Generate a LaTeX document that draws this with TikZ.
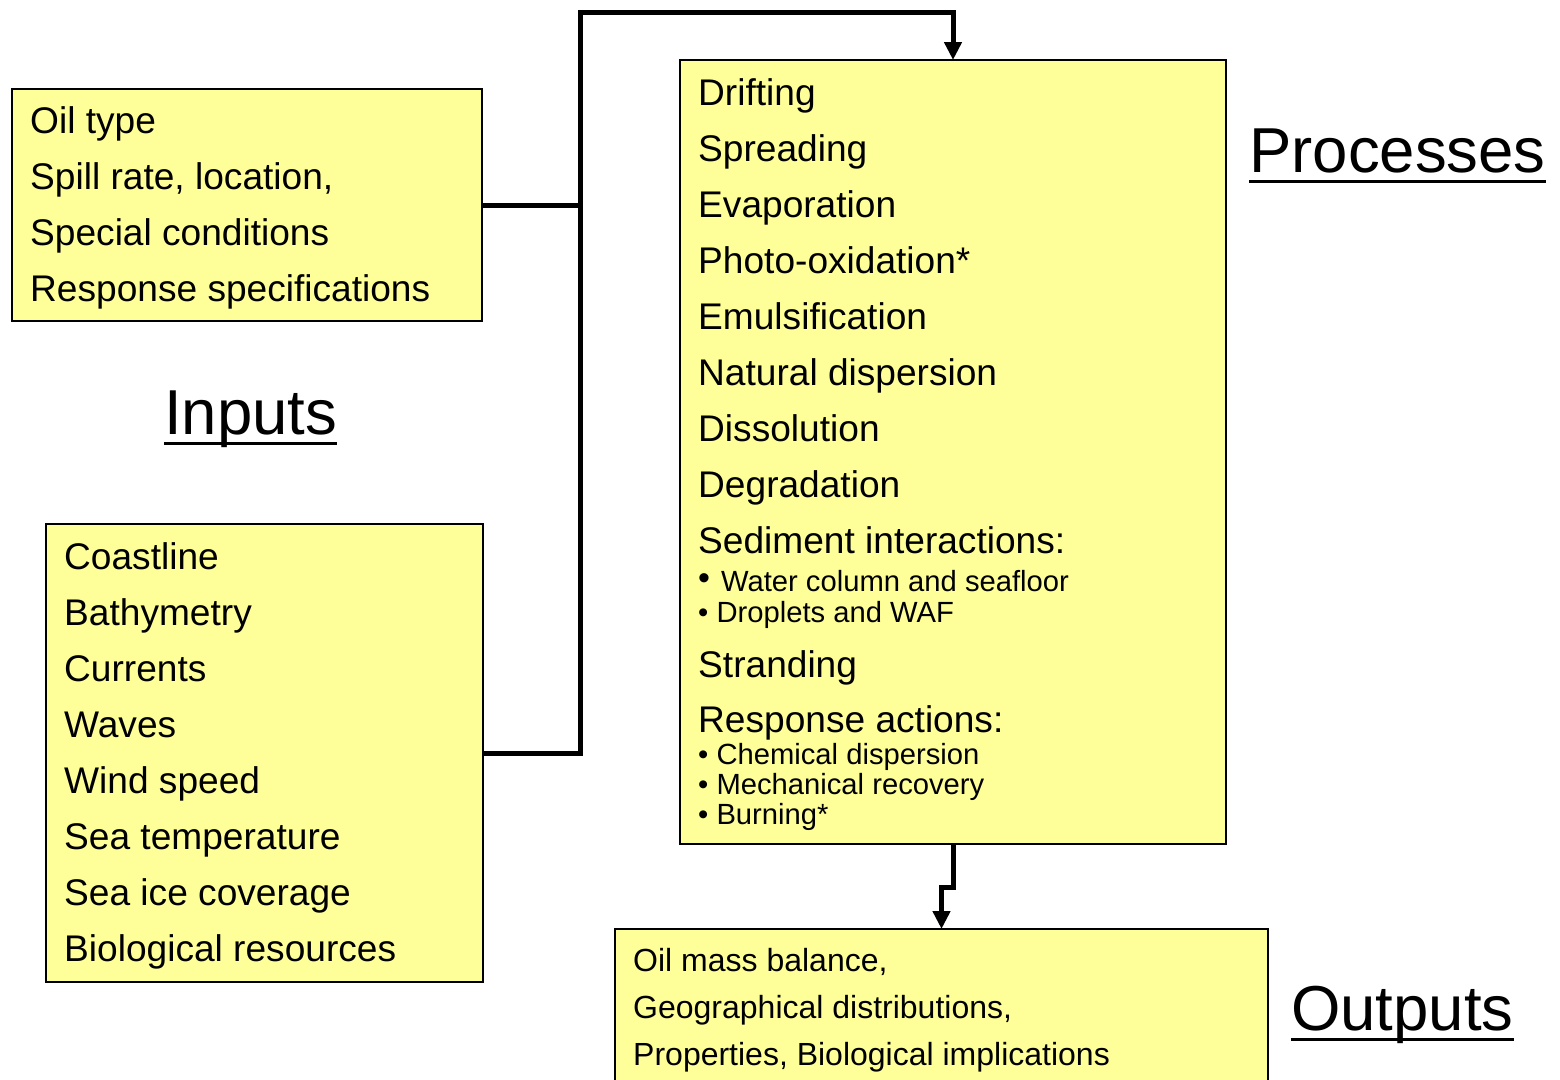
\documentclass[tikz,border=0pt]{standalone}
\usepackage{fontspec}
\setmainfont{Liberation Sans}
\usepackage{tikz}
\usetikzlibrary{arrows.meta,positioning}
\definecolor{notepad}{RGB}{255,255,153}

\begin{document}
\begin{tikzpicture}[
    x=1pt,
    y=-1pt,
    >={Triangle[length=18pt,width=17pt]},
    box/.style={
		rectangle,
		draw=black,
		line width=2.5pt,
		fill=notepad,
		inner sep=0pt,
		outer sep=0pt,
		anchor=north west
	},
	entry/.style={
		anchor=base west,
		inner sep=0pt,
		font=\fontsize{37.1}{56}\selectfont
	},
	bullets/.style={
		entry,
		font=\fontsize{29.2}{30}\selectfont
	},
	heading/.style={
		anchor=base west,
		inner sep=0pt,
		font=\fontsize{63.5}{70}\selectfont
	},
	wire/.style={
		line width=5pt
	}
  ]
  \useasboundingbox (0,0) rectangle (1560,1079);

    % We start by placing the blocks
  \node [box, minimum width=470pt, minimum height=232pt] (inbox1) at (12,89) {};
  \node [box, minimum width=437pt, minimum height=458pt] (inbox2) at (46,524) {};
  \node [box, minimum width=546pt, minimum height=784pt] (procbox) at (680,60) {};
  \node [box, minimum width=653pt, minimum height=200pt] (outbox) at (615,929) {};

  \node [entry] (intext1) at (30,133)
 {%
 \begin{tabular}[t]{@{}l@{}}
  Oil type\\
  Spill rate, location,\\
  Special conditions\\
  Response specifications
 \end{tabular}
 };

  \node [entry] (intext2) at (64,569)
 {%
 \begin{tabular}[t]{@{}l@{}}
  Coastline\\
  Bathymetry\\
  Currents\\
  Waves\\
  Wind speed\\
  Sea temperature\\
  Sea ice coverage\\
  Biological resources
 \end{tabular}
 };

  \node [entry] (proctext1) at (698,105)
 {%
 \begin{tabular}[t]{@{}l@{}}
  Drifting\\
  Spreading\\
  Evaporation\\
  Photo-oxidation*\\
  Emulsification\\
  Natural dispersion\\
  Dissolution\\
  Degradation\\
  Sediment interactions:
 \end{tabular}
 };

  \node [bullets, font=\fontsize{29.2}{31}\selectfont] (proctext2) at (698,591)
 {%
 \begin{tabular}[t]{@{}l@{}}
  \raisebox{2pt}{\fontsize{34}{30}\selectfont •}\hspace{11pt}Water column and seafloor\\
  •\ Droplets and WAF
 \end{tabular}
 };

  \node [entry, font=\fontsize{37.1}{55}\selectfont] (proctext3) at (698,677)
 {%
 \begin{tabular}[t]{@{}l@{}}
  Stranding\\
  Response actions:
 \end{tabular}
 };

  \node [bullets] (proctext4) at (698,764)
 {%
 \begin{tabular}[t]{@{}l@{}}
  •\ Chemical dispersion\\
  •\ Mechanical recovery\\
  •\ Burning*
 \end{tabular}
 };

  \node [entry, font=\fontsize{32}{47}\selectfont] (outtext) at (633,971)
 {%
 \begin{tabular}[t]{@{}l@{}}
  Oil mass balance,\\
  Geographical distributions,\\
  Properties, Biological implications
 \end{tabular}
 };

  \node [heading] (inputs) at (164,434) {Inputs};
  \node [heading] (processes) at (1249,172) {Processes};
  \node [heading] (outputs) at (1291,1030) {Outputs};

 \foreach \t in {inputs,processes,outputs}
  \draw [line width=3pt] ([yshift=-9pt]\t.base west) -- ([yshift=-9pt]\t.base east);

 % connectors
 \coordinate (bend) at (580,12);
 \draw [wire] (inbox1.east) -- (inbox1.east -| bend);
 \draw [wire,->] (inbox2.east) -| (bend) -| (procbox.north);
 \draw [wire,->] (procbox.south) -- ++(0,43) -| (outbox.north);

\end{tikzpicture}
\end{document}
